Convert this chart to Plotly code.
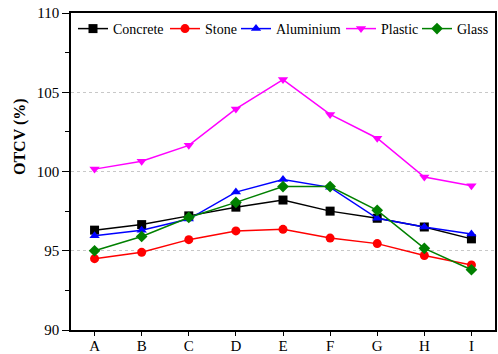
import plotly.graph_objects as go

# Sample positions along the horizontal axis
categories = ["A", "B", "C", "D", "E", "F", "G", "H", "I"]

# OTCV (%) per material
concrete = [96.3, 96.65, 97.2, 97.75, 98.2, 97.5, 97.05, 96.5, 95.75]
stone = [94.5, 94.9, 95.7, 96.25, 96.35, 95.8, 95.45, 94.7, 94.1]
aluminium = [95.95, 96.3, 97.0, 98.7, 99.5, 99.0, 97.05, 96.5, 96.05]
plastic = [100.15, 100.65, 101.65, 103.95, 105.8, 103.6, 102.1, 99.65, 99.1]
glass = [95.0, 95.9, 97.1, 98.05, 99.05, 99.05, 97.55, 95.15, 93.8]

y_ticks = [90, 95, 100, 105, 110]

series = [
    ("Concrete", concrete, "#000000", "square"),
    ("Stone", stone, "#ff0000", "circle"),
    ("Aluminium", aluminium, "#0000ff", "triangle-up"),
    ("Plastic", plastic, "#ff00ff", "triangle-down"),
    ("Glass", glass, "#008000", "diamond"),
]

# Plot-area geometry in pixels (used to place the one-row legend)
W, H = 498, 354
L, R, T, B = 71, 3, 13, 24
plot_w = W - L - R
plot_h = H - T - B
legend_starts = [78, 170, 241, 346, 422]

font = "Liberation Serif, Times New Roman, serif"

fig = go.Figure()
legends = {}
for i, (name, values, color, symbol) in enumerate(series):
    key = "legend" if i == 0 else f"legend{i + 1}"
    fig.add_trace(go.Scatter(
        x=categories, y=values, name=name, mode="lines+markers",
        line=dict(color=color, width=1.5),
        marker=dict(symbol=symbol, size=9, color=color),
        legend=key,
    ))
    legends[key] = dict(
        x=(legend_starts[i] - 5 - L) / plot_w, xanchor="left",
        y=1 - (29 - T) / plot_h, yanchor="middle",
        orientation="h", bgcolor="rgba(0,0,0,0)", borderwidth=0,
        font=dict(family=font, size=14, color="#000000"),
        itemwidth=30,
    )

fig.update_layout(
    width=W, height=H,
    margin=dict(l=L, r=R, t=T, b=B, pad=0),
    paper_bgcolor="white", plot_bgcolor="white",
    font=dict(family=font, size=14, color="#000000"),
    showlegend=True,
    xaxis=dict(
        range=[-0.5, 8.5], showline=True, linecolor="#000000", linewidth=1.5,
        mirror=True, ticks="outside", ticklen=4, tickcolor="#000000",
        showgrid=False, zeroline=False, automargin=False,
        tickfont=dict(family=font, size=15), ticklabelstandoff=-3,
    ),
    yaxis=dict(
        range=[90, 110], tickvals=y_ticks, showline=True, linecolor="#000000",
        linewidth=1.5, mirror=True, ticks="outside", ticklen=7,
        tickcolor="#000000", showgrid=True, gridcolor="#c8c8c8",
        griddash="dot", gridwidth=1, zeroline=False, automargin=False,
        tickfont=dict(family=font, size=15),
        minor=dict(dtick=2.5, ticks="outside", ticklen=4, tickcolor="#000000",
                   showgrid=False),
    ),
    **legends,
)

# Y-axis title, placed as a rotated annotation
fig.add_annotation(
    text="<b>OTCV (%)</b>", textangle=-90, showarrow=False,
    xref="paper", yref="paper",
    x=(20 - L) / plot_w, xanchor="center",
    y=1 - (137 - T) / plot_h, yanchor="middle",
    font=dict(family=font, size=16, color="#000000"),
)

fig.write_html("out.html")
